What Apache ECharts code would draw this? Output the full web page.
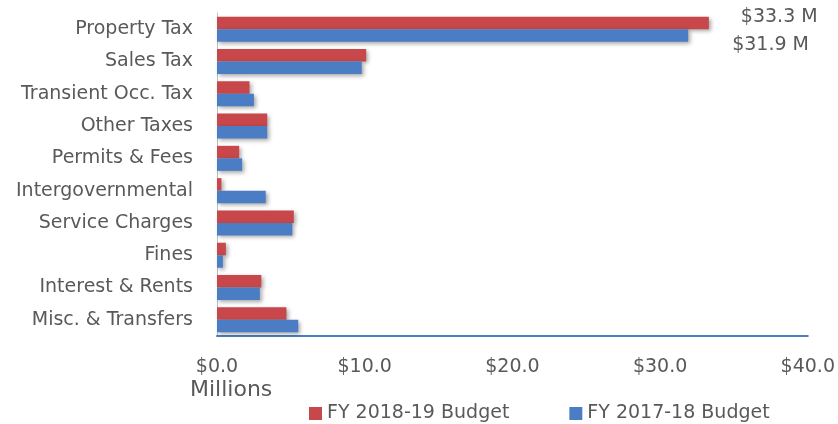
<!DOCTYPE html>
<html>
<head>
<meta charset="utf-8">
<script src="https://cdn.jsdelivr.net/npm/echarts@6/dist/echarts.min.js"></script>
<style>
  html, body { margin: 0; padding: 0; background: #fff; }
  #chart { width: 838px; height: 424px; }
</style>
</head>
<body>
<div id="chart"></div>
<script>
// Revenue categories, listed top to bottom
const categories = [
  'Property Tax', 'Sales Tax', 'Transient Occ. Tax', 'Other Taxes', 'Permits & Fees',
  'Intergovernmental', 'Service Charges', 'Fines', 'Interest & Rents', 'Misc. & Transfers'
];
// Budget amounts in millions of dollars
const fy1819 = [33.3, 10.1, 2.2, 3.4, 1.5, 0.3, 5.2, 0.6, 3.0, 4.7];
const fy1718 = [31.9, 9.8, 2.5, 3.4, 1.7, 3.3, 5.1, 0.4, 2.9, 5.5];
const seriesNames = ['FY 2018-19 Budget', 'FY 2017-18 Budget'];
const xTicks = [0, 10, 20, 30, 40];

const FONT = 'DejaVu Sans';
const TEXT = '#595959';

// Only the largest category carries a value label
function withLabel(values, offset) {
  return values.map((v, i) => i === 0 ? {
    value: v,
    label: {
      show: true, position: 'right', offset: offset,
      formatter: p => '$' + p.value.toFixed(1) + ' M',
      fontFamily: FONT, fontSize: 19, color: TEXT
    }
  } : v);
}

const barShadow = {
  shadowBlur: 4, shadowColor: 'rgba(0,0,0,0.35)', shadowOffsetX: 2, shadowOffsetY: 2
};

const chart = echarts.init(document.getElementById('chart'), null, { renderer: 'canvas' });
chart.setOption({
  animation: false,
  grid: { left: 217, right: 28, top: 13, bottom: 88, containLabel: false },
  legend: {
    top: 399, left: 304,
    itemWidth: 13, itemHeight: 13, itemGap: 60,
    icon: 'rect',
    textStyle: { fontFamily: FONT, fontSize: 19, color: TEXT },
    data: seriesNames
  },
  graphic: [{
    type: 'text', left: 190, top: 379,
    style: { text: 'Millions', fontFamily: FONT, fontSize: 22, fill: TEXT }
  }],
  xAxis: {
    type: 'value', min: xTicks[0], max: xTicks[xTicks.length - 1], interval: 10,
    axisLine: { show: true, lineStyle: { color: '#4a7dc4', width: 2 } },
    axisTick: { show: false },
    splitLine: { show: false },
    axisLabel: {
      margin: 22, fontFamily: FONT, fontSize: 19, color: TEXT,
      formatter: v => '$' + v.toFixed(1)
    }
  },
  yAxis: {
    type: 'category', data: categories, inverse: true,
    axisLine: { show: true, lineStyle: { color: '#bfbfbf', width: 1 } },
    axisTick: { show: false },
    axisLabel: { margin: 24, fontFamily: FONT, fontSize: 19, color: TEXT }
  },
  series: [
    {
      name: seriesNames[0], type: 'bar', data: withLabel(fy1819, [27, -6]),
      barWidth: 12.5, barGap: '0%',
      itemStyle: Object.assign({ color: '#c8474a' }, barShadow)
    },
    {
      name: seriesNames[1], type: 'bar', data: withLabel(fy1718, [39, 10]),
      barWidth: 12.5, barGap: '0%',
      itemStyle: Object.assign({ color: '#4a7dc4' }, barShadow)
    }
  ]
});
</script>
</body>
</html>
